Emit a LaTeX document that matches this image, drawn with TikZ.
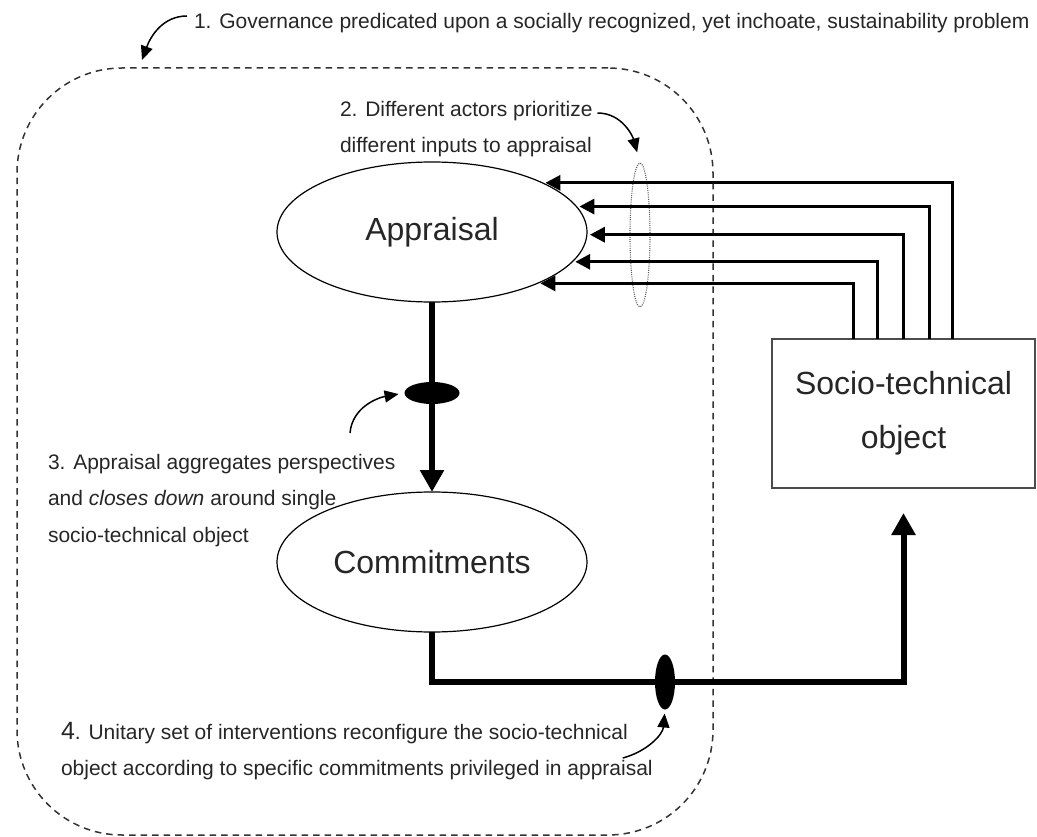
\documentclass[tikz,border=0pt]{standalone}
\usepackage{fontspec}
\setmainfont{Liberation Sans}
\usetikzlibrary{arrows.meta,shapes.geometric}

\begin{document}
\begin{tikzpicture}[x=1pt,y=1pt]
	% formatos
	\tikzstyle{every node}=[inner sep=0pt, outer sep=0pt]
	\tikzstyle{note} = [font=\fontsize{21}{36.5}\selectfont, align=left, anchor=north west, text=black!85]
	\tikzstyle{stage} = [draw, ellipse, line width=1.2pt, minimum width=310, minimum height=140, font=\fontsize{32}{40}\selectfont, text=black!85]
	\tikzstyle{blob} = [fill, ellipse, minimum width=55, minimum height=22]
	\tikzstyle{flow} = [-{Triangle[length=22pt,width=23pt]}, line width=6pt]
	\tikzstyle{feed} = [-{Triangle[length=15pt,width=15pt]}, line width=3.2pt, shorten >=3pt]
	\tikzstyle{pointer} = [-{Triangle[length=14pt,width=12pt]}, line width=1.5pt]
	\useasboundingbox (0,0) rectangle (1037,-837);
	% nodos
	\node [draw=black!80, dash pattern=on 6.5pt off 5pt, line width=1.5pt, rounded corners=105pt, minimum width=696, minimum height=767] (field) at (365,-451.5) {};
	\node [stage] (app) at (432,-232) {Appraisal};
	\node [stage] (com) [below of=app, node distance=330] {Commitments};
	\node [draw=black!70, line width=1.5pt, minimum width=263, minimum height=149, align=center, font=\fontsize{32}{54}\selectfont, text=black!85] (obj) at (903.5,-413.5) {Socio-technical\\object};
	\node [draw=black!65, dash pattern=on 1pt off 1.2pt, line width=1.1pt, ellipse, minimum width=20, minimum height=144] (inputs) at (640,-235) {};
	\node [blob] (agg) at (432,-393) {};
	\node [blob, minimum width=20, minimum height=55] (pick) at (665,-682) {};
	\node [note] (t1) at (194,-13) {1. Governance predicated upon a socially recognized, yet inchoate, sustainability problem};
	\node [note] (t2) at (340,-101) {2. Different actors prioritize\\different inputs to appraisal};
	\node [note] (t3) at (48,-454) {3. Appraisal aggregates perspectives\\and \textit{closes down} around single\\socio-technical object};
	\node [note] (t4) at (61,-722) {{\fontsize{25}{25}\selectfont 4}. Unitary set of interventions reconfigure the socio-technical\\object according to specific commitments privileged in appraisal};
	\coordinate (c1) at ([shift={(125,8)}]field.north west);
	% relaciones
	\draw [flow] (app.south) -- (com.north);
	\draw [flow, shorten >=25pt] (com.south) -- ++(0,-50) -| (obj.south);
	\draw [feed] ([xshift=49]obj.north) |- (app.24);
	\draw [feed] ([xshift=26]obj.north) |- (app.10);
	\draw [feed] (obj.north) |- (app.-1);
	\draw [feed] ([xshift=-26]obj.north) |- (app.-12);
	\draw [feed] ([xshift=-50]obj.north) |- (app.-26);
	\draw [pointer] ([shift={(-7,-3)}]t1.north west) to[out=180, in=70] (c1);
	\draw [pointer, shorten >=11pt] ([shift={(5,-12)}]t2.north east) to[out=0, in=105] (inputs.north);
	\draw [pointer, shorten >=6pt] ([shift={(302,21)}]t3.north west) to[out=85, in=190] (agg.west);
	\draw [pointer, shorten >=4pt] ([shift={(-30,-36)}]t4.north east) to[out=15, in=-95] (pick.south);
\end{tikzpicture}
\end{document}
